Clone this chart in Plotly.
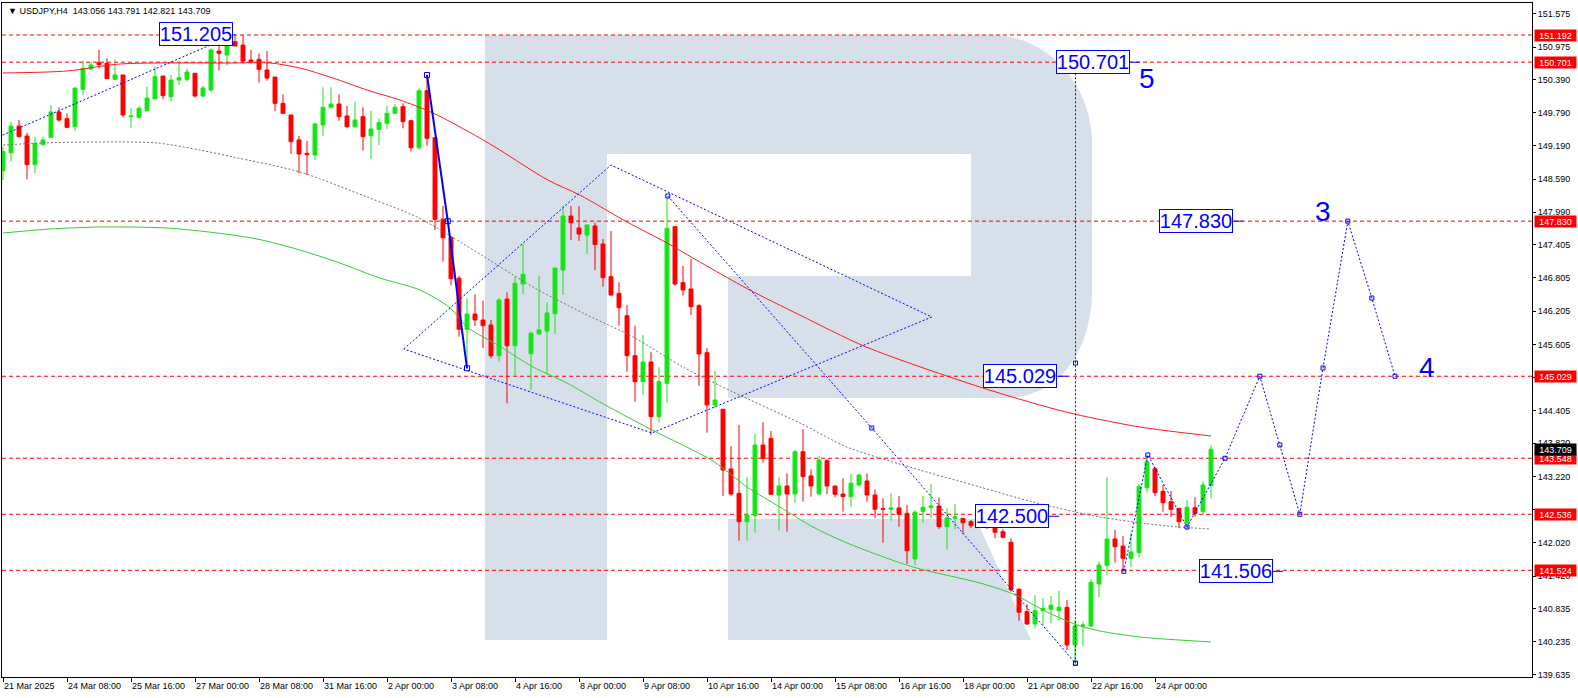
import plotly.graph_objects as go

# ---------------- data ----------------
bar_idx = list(range(152))
opens = [148.742,149.067,149.548,149.368,148.850,149.211,149.344,149.801,149.681,149.536,
         150.211,150.578,150.692,150.680,150.391,150.470,149.717,149.705,149.825,150.036,
         150.451,150.078,150.379,150.391,150.500,150.090,150.199,150.903,150.831,151.072,
         151.011,150.740,150.753,150.560,150.433,149.958,149.747,149.296,149.055,149.025,
         149.567,149.886,149.946,149.729,149.536,149.717,149.374,149.488,149.597,149.777,
         149.898,149.645,149.157,150.187,149.338,147.864,147.538,146.800,145.877,146.153,
         146.045,145.955,145.400,146.424,145.581,146.695,145.436,145.792,145.846,146.159,
         146.948,147.923,147.706,147.580,147.743,147.417,146.827,146.527,146.123,145.400,
         144.931,145.286,144.299,144.902,147.730,146.719,146.605,146.303,145.454,144.510,
         144.432,143.354,142.915,142.402,142.510,143.787,143.908,142.884,143.047,142.902,
         143.666,143.228,142.902,143.504,143.047,142.902,142.854,143.065,143.137,142.884,
         142.637,142.626,142.650,142.554,141.729,142.583,142.662,142.686,142.312,142.464,
         142.464,142.402,142.343,142.373,142.325,142.222,142.030,141.181,140.777,140.555,
         140.795,140.820,140.795,140.856,140.175,140.514,140.519,141.277,141.614,142.090,
         141.963,141.741,141.843,143.016,143.359,142.951,142.763,142.644,142.384,142.655,
         142.583,143.056]
highs = [149.175,149.627,149.657,149.428,149.356,149.356,149.928,149.886,149.777,150.235,
         150.728,150.710,150.921,150.771,150.753,150.470,149.867,149.910,150.259,150.620,
         150.451,150.470,150.692,150.590,150.500,150.271,150.951,151.090,151.132,151.205,
         151.192,150.921,150.861,150.903,150.433,150.120,149.747,149.368,149.278,149.609,
         150.247,150.247,150.120,149.910,149.988,149.886,149.825,149.687,149.910,149.946,
         149.958,149.645,150.229,150.451,149.338,148.104,147.540,146.840,146.437,146.509,
         146.393,146.045,146.437,146.545,146.827,147.417,145.834,146.840,146.365,146.984,
         148.104,148.104,148.104,147.761,147.802,147.508,147.652,146.726,146.316,145.942,
         145.774,145.472,145.191,148.272,147.742,147.020,147.147,146.334,145.534,145.129,
         144.432,143.769,144.149,143.204,143.986,144.197,144.040,143.204,143.276,143.697,
         144.071,143.349,143.589,143.529,143.047,143.186,143.264,143.258,143.276,142.987,
         142.825,142.915,142.866,142.704,142.614,142.866,143.078,142.843,142.644,142.722,
         142.464,142.433,142.391,142.384,142.361,142.270,142.102,141.199,140.916,141.078,
         141.019,141.060,141.156,140.988,140.627,140.596,141.362,141.680,143.204,142.252,
         142.144,142.193,143.083,143.607,143.385,143.065,142.957,142.644,142.794,142.843,
         143.125,143.791]
lows = [148.573,148.904,149.344,148.585,148.694,149.205,149.344,149.627,149.506,149.464,
        150.108,150.560,150.590,150.403,150.379,149.705,149.518,149.687,149.825,150.036,
        150.030,149.988,150.289,150.349,150.066,150.066,150.169,150.548,150.638,150.993,
        150.680,150.680,150.331,150.367,149.819,149.777,149.043,148.694,148.663,148.934,
        149.368,149.867,149.645,149.506,149.506,149.103,148.952,149.205,149.500,149.765,
        149.506,149.085,149.115,149.193,147.670,147.098,146.672,145.743,145.173,145.937,
        145.534,145.353,145.292,144.541,145.039,146.514,144.781,145.792,145.064,145.792,
        146.496,147.490,147.472,147.237,146.948,146.646,146.484,145.942,145.111,144.569,
        144.690,143.968,144.190,144.551,146.659,146.484,146.135,144.853,144.009,144.450,
        142.866,142.866,142.059,142.059,142.204,143.468,142.897,142.240,142.222,142.745,
        142.763,142.854,142.902,142.902,142.843,142.583,142.662,143.047,142.763,142.464,
        142.023,142.420,142.312,141.638,141.620,142.384,142.464,142.270,141.904,142.265,
        142.180,142.283,142.325,142.270,142.102,142.102,141.138,140.614,140.537,140.477,
        140.537,140.567,140.614,140.085,139.845,140.157,140.496,141.037,141.440,141.662,
        141.499,141.579,141.759,142.926,142.866,142.583,142.482,142.283,142.265,142.492,
        142.523,142.821]
closes = [149.085,149.548,149.356,148.850,149.235,149.296,149.801,149.657,149.524,150.235,
          150.590,150.650,150.656,150.403,150.470,149.747,149.729,149.867,150.054,150.439,
          150.096,150.379,150.421,150.524,150.090,150.235,150.921,150.861,151.060,150.993,
          150.722,150.710,150.572,150.415,149.958,149.777,149.265,149.043,149.031,149.585,
          149.886,149.946,149.717,149.536,149.657,149.356,149.494,149.609,149.777,149.886,
          149.627,149.157,150.187,149.326,147.863,147.531,146.791,145.877,146.153,146.045,
          145.942,145.400,146.406,145.581,146.708,146.870,145.805,145.864,146.171,146.984,
          147.923,147.802,147.598,147.761,147.408,146.809,146.496,146.267,145.400,144.931,
          145.286,144.299,144.931,147.701,146.695,146.587,146.285,145.431,144.510,144.600,
          143.336,142.902,142.402,142.523,143.787,143.547,142.897,143.047,142.902,143.666,
          143.215,143.047,143.516,143.047,142.897,142.854,143.096,143.246,142.884,142.626,
          142.626,142.650,142.536,141.878,142.572,142.662,142.686,142.312,142.474,142.492,
          142.384,142.330,142.373,142.325,142.211,142.120,141.169,140.766,140.555,140.795,
          140.838,140.892,140.856,140.175,140.519,140.537,141.308,141.620,142.090,141.951,
          141.741,141.855,143.034,143.486,142.926,142.745,142.626,142.402,142.662,142.554,
          143.065,143.709]

xtick_idx = [0, 8, 16, 24, 32, 40, 48, 56, 64, 72, 80, 88, 96, 104, 112, 120, 128, 136, 144]
xtick_text = ["21 Mar 2025", "24 Mar 08:00", "25 Mar 16:00", "27 Mar 00:00", "28 Mar 08:00",
              "31 Mar 16:00", "2 Apr 00:00", "3 Apr 08:00", "4 Apr 16:00", "8 Apr 00:00",
              "9 Apr 08:00", "10 Apr 16:00", "14 Apr 00:00", "15 Apr 08:00", "16 Apr 16:00",
              "18 Apr 00:00", "21 Apr 08:00", "22 Apr 16:00", "24 Apr 00:00"]
ytick_vals = [151.575, 150.975, 150.390, 149.790, 149.190, 148.590, 147.990, 147.405, 146.805,
              146.205, 145.605, 145.005, 144.405, 143.820, 143.220, 142.620, 142.020, 141.420,
              140.835, 140.235, 139.635]
# tick labels that sit fully under a price box in the reference
ytick_hidden = [145.005, 142.620]

red_ma_idx = [0, 8, 14.6, 28.75, 33.4, 37.1, 41.25, 45.5, 49.6, 53.75, 59.6, 62.1, 68.1, 72.1,
              78, 83, 87.1, 93.1, 99.6, 107.9, 122.1, 129.6, 133.9, 142.1, 151]
red_ma_val = [150.506, 150.542, 150.668, 150.686, 150.686, 150.596, 150.415, 150.199, 150.018,
              149.783, 149.332, 149.115, 148.573, 148.302, 147.815, 147.436, 147.092, 146.605,
              146.135, 145.557, 144.835, 144.510, 144.347, 144.112, 143.950]
green_ma_idx = [0, 5.9, 12.1, 20.5, 26.75, 31.75, 37.1, 42.1, 47.1, 52.1, 55.9, 58, 62.1, 66.25,
                70.5, 74.6, 80.9, 88.75, 93, 97.1, 101.25, 105.5, 113.75, 122.1, 126.25, 130.5,
                134.25, 137.1, 142.1, 151]
green_ma_val = [147.616, 147.688, 147.724, 147.706, 147.616, 147.508, 147.309, 147.074, 146.803,
                146.587, 146.262, 145.918, 145.570, 145.196, 144.907, 144.564, 144.076, 143.498,
                143.029, 142.668, 142.306, 142.018, 141.584, 141.295, 141.096, 140.771, 140.537,
                140.428, 140.320, 140.230]
gray_ma_idx = [0, 5, 12.1, 19.25, 24.6, 28.75, 37.1, 45.5, 51.75, 55.9, 60, 66.25, 72.5, 78.75,
               85, 91.25, 99.6, 105.5, 113.75, 122.1, 128.75, 137.1, 145.5, 151]
gray_ma_val = [149.205, 149.242, 149.260, 149.242, 149.115, 148.989, 148.718, 148.266, 147.905,
               147.562, 147.201, 146.641, 146.171, 145.738, 145.196, 144.745, 144.185, 143.751,
               143.372, 143.029, 142.758, 142.487, 142.325, 142.270]

level_prices = [151.192, 150.701, 147.830, 145.029, 143.548, 142.536, 141.524]
last_price = 143.709

wave_a_idx = [-0.5, 29]
wave_a_val = [149.355, 151.205]
wave_b_idx = [53, 55.6, 58]
wave_b_val = [150.470, 147.830, 145.173]
diamond_idx = [50.1, 76, 116.1, 81.1, 50.1]
diamond_val = [145.521, 148.844, 146.099, 144.004, 145.521]
diag_idx = [83.1, 108.6, 134.06]
diag_val = [148.284, 144.094, 139.845]
vert_idx = [134.06, 134.06, 134.06]
vert_val = [139.845, 145.268, 150.701]
fc_idx = [140.1, 143.1, 148.0, 152.75, 157.1, 159.6, 162.1, 165, 168.1, 171.1, 174]
fc_val = [141.506, 143.607, 142.306, 143.548, 145.029, 143.787, 142.536, 145.178, 147.830,
          146.442, 145.029]

box_text = ["151.205", "150.701", "147.830", "145.029", "142.500", "141.506"]
box_price = [151.205, 150.701, 147.830, 145.029, 142.500, 141.506]
box_left_idx = [19.54, 131.6, 144.5, 122.56, 121.5, 149.5]
box_has_tick = [False, True, True, True, True, True]

wave_num_text = ["5", "3", "4"]
wave_num_idx = [143, 165, 178]
wave_num_price = [150.406, 148.001, 145.178]

title_text = "USDJPY,H4  143.056 143.791 142.821 143.709"

# ---------------- figure ----------------
W, H = 1578, 698
ML, MR, MT, MB = 2, 46, 3, 21
PW, PH = W - ML - MR, H - MT - MB

BLUE = "#0000ff"
GREEN = "#14e614"
RED = "#ff0000"
FONT = "Liberation Sans, Arial, sans-serif"

fig = go.Figure()

fig.add_trace(go.Candlestick(
    x=bar_idx, open=opens, high=highs, low=lows, close=closes,
    increasing=dict(line=dict(color=GREEN, width=1), fillcolor=GREEN),
    decreasing=dict(line=dict(color=RED, width=1), fillcolor=RED),
    whiskerwidth=0, showlegend=False, hoverinfo="skip"))

fig.add_trace(go.Scatter(x=red_ma_idx, y=red_ma_val, mode="lines",
                         line=dict(color="#ff1a1a", width=1, shape="spline", smoothing=0.8),
                         hoverinfo="skip", showlegend=False))
fig.add_trace(go.Scatter(x=green_ma_idx, y=green_ma_val, mode="lines",
                         line=dict(color="#33cc33", width=1, shape="spline", smoothing=0.8),
                         hoverinfo="skip", showlegend=False))
fig.add_trace(go.Scatter(x=gray_ma_idx, y=gray_ma_val, mode="lines",
                         line=dict(color="#707070", width=1, dash="2px,2px", shape="spline",
                                   smoothing=0.8),
                         hoverinfo="skip", showlegend=False))

dot = "2px,2px"
for xs, ys, mode in [(wave_a_idx, wave_a_val, "lines"), (diamond_idx, diamond_val, "lines"),
                     (diag_idx, diag_val, "lines+markers"), (vert_idx, vert_val, "lines+markers"),
                     (fc_idx, fc_val, "lines+markers")]:
    fig.add_trace(go.Scatter(x=xs, y=ys, mode=mode,
                             line=dict(color=BLUE, width=1, dash=dot),
                             marker=dict(symbol="square-open", size=4, color=BLUE,
                                         line=dict(width=1, color=BLUE)),
                             hoverinfo="skip", showlegend=False))
fig.add_trace(go.Scatter(x=wave_b_idx, y=wave_b_val, mode="lines+markers",
                         line=dict(color=BLUE, width=2),
                         marker=dict(symbol="square-open", size=5, color=BLUE,
                                     line=dict(width=1, color=BLUE)),
                         hoverinfo="skip", showlegend=False))

# small connector ticks to the right of the boxed labels
for t, p, xl, tk in zip(box_text, box_price, box_left_idx, box_has_tick):
    if tk:
        fig.add_trace(go.Scatter(x=[xl + 9.25, xl + 10.5], y=[p, p], mode="lines",
                                 line=dict(color=BLUE, width=1), hoverinfo="skip",
                                 showlegend=False))

shapes = []


def px2paper(x, y):
    return (x - ML) / PW, (H - MB - y) / PH


def path(cmds):
    out = []
    for c in cmds:
        letter, pts = c[0], c[1:]
        s = letter
        for (x, y) in pts:
            px, py = px2paper(x, y)
            s += " %.5f,%.5f" % (px, py)
        out.append(s)
    return " ".join(out) + " Z"


logo_col = "#d6dfea"
outer = path([("M", (485, 35)), ("L", (992, 35)),
              ("C", (1047, 35), (1092, 85), (1092, 142)),
              ("L", (1092, 290)),
              ("C", (1092, 352), (1058, 398), (1005, 398)),
              ("L", (728, 398)), ("L", (728, 276)), ("L", (971, 276)), ("L", (971, 154)),
              ("L", (607, 154)), ("L", (607, 640)), ("L", (485, 640))])
leg = path([("M", (728, 519)), ("L", (976, 519)), ("L", (1031, 640)), ("L", (728, 640))])
for pth in (outer, leg):
    shapes.append(dict(type="path", path=pth, xref="paper", yref="paper",
                       fillcolor=logo_col, line=dict(width=0), layer="below"))

for p in level_prices:
    shapes.append(dict(type="line", xref="paper", yref="y", x0=0, x1=1, y0=p, y1=p,
                       line=dict(color=RED, width=1, dash="4px,3px"), layer="below"))

annotations = []
annotations.append(dict(xref="paper", yref="paper", x=(6 - ML) / PW, y=(H - MB - 10.5) / PH,
                        xanchor="left", yanchor="middle", showarrow=False,
                        text="▼ " + title_text,
                        font=dict(family=FONT, size=9, color="black")))
for p in level_prices:
    annotations.append(dict(xref="paper", yref="y", x=1, y=p, xanchor="left", yanchor="middle",
                            xshift=2, showarrow=False, text="%.3f" % p,
                            bgcolor=RED, borderpad=0, width=41, height=11,
                            font=dict(family=FONT, size=9, color="white")))
annotations.append(dict(xref="paper", yref="y", x=1, y=last_price, xanchor="left",
                        yanchor="middle", xshift=2, showarrow=False, text="%.3f" % last_price,
                        bgcolor="black", borderpad=0, width=41, height=11,
                        font=dict(family=FONT, size=9, color="white")))
for t, p, xl in zip(box_text, box_price, box_left_idx):
    annotations.append(dict(xref="x", yref="y", x=xl, y=p, xanchor="left", yanchor="middle",
                            showarrow=False, text=t, bgcolor="white", bordercolor=BLUE,
                            borderwidth=1, borderpad=0, width=72, height=22,
                            font=dict(family=FONT, size=20, color=BLUE)))
for t, xi, p in zip(wave_num_text, wave_num_idx, wave_num_price):
    annotations.append(dict(xref="x", yref="y", x=xi, y=p, xanchor="center", yanchor="middle",
                            showarrow=False, text=t,
                            font=dict(family=FONT, size=28, color=BLUE)))

ytick_text = ["" if v in ytick_hidden else "%.3f" % v for v in ytick_vals]

fig.update_layout(
    width=W, height=H,
    margin=dict(l=ML, r=MR, t=MT, b=MB, pad=0),
    paper_bgcolor="white", plot_bgcolor="white",
    showlegend=False, hovermode=False,
    shapes=shapes, annotations=annotations,
    xaxis=dict(range=[-0.125, 191.125], tickmode="array", tickvals=xtick_idx,
               ticktext=xtick_text, ticks="outside", ticklen=4, tickcolor="black",
               ticklabelposition="outside right",
               tickfont=dict(family=FONT, size=9, color="black"),
               showgrid=False, zeroline=False, showline=True, linecolor="black",
               linewidth=1, mirror=True, rangeslider=dict(visible=False), automargin=False,
               fixedrange=True),
    yaxis=dict(range=[139.597, 151.770], side="right", tickmode="array",
               tickvals=ytick_vals, ticktext=ytick_text,
               ticks="outside", ticklen=3, tickcolor="black",
               tickfont=dict(family=FONT, size=9, color="black"),
               showgrid=False, zeroline=False, showline=True, linecolor="black",
               linewidth=1, mirror=True, automargin=False, fixedrange=True),
)

fig.write_html("out.html", config={"displayModeBar": False},
               post_script="document.body.style.margin='0px';"
                           "document.body.style.padding='0px';"
                           "document.body.style.overflow='hidden';")
